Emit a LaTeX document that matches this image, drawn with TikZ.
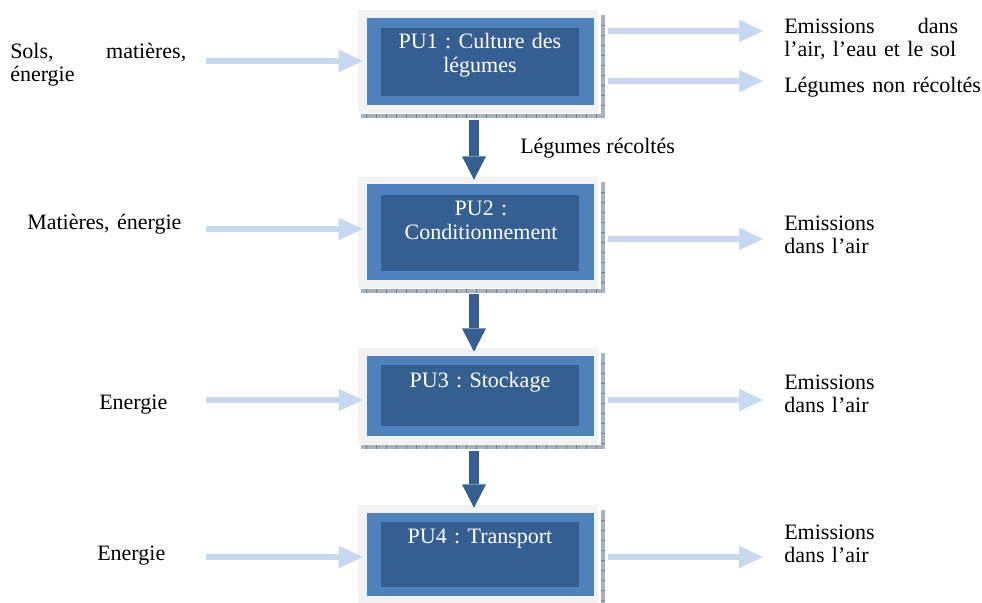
\documentclass[tikz,border=0pt]{standalone}
\usepackage{fontspec}
\setmainfont{Liberation Serif}
\usetikzlibrary{arrows.meta,fit}
\frenchspacing

\definecolor{framegray}{HTML}{F2F2F2}
\definecolor{midblue}{HTML}{4F81BD}
\definecolor{darkblue}{HTML}{365F91}
\definecolor{paleblue}{HTML}{C6D9F1}
\definecolor{shadowgray}{HTML}{A9B2BF}
\definecolor{tickgray}{HTML}{6F7C8F}

\tikzset{
  frame/.style={fill=framegray, inner sep=0pt},
  plate/.style={fill=midblue, inner sep=0pt},
  core/.style={fill=darkblue, inner sep=0pt},
  boxtext/.style={text=white, text width=148pt, align=center, anchor=base, inner sep=0pt,
    font=\fontsize{16.5}{18}\selectfont\frenchspacing},
  sidetext/.style={anchor=base west, inner sep=0pt, text width=160pt, align=left,
    font=\fontsize{16.5}{17.25}\selectfont\frenchspacing},
  flowtip/.style={-{Triangle[length=18pt,width=17pt,line width=0pt]}},
  inflow/.style={draw=paleblue, line width=4.9pt, flowtip, shorten >=3pt},
  outflow/.style={draw=paleblue, line width=4.9pt, flowtip, shorten <=10.5pt},
  mainflow/.style={draw=darkblue, line width=6.9pt,
    -{Triangle[length=17.5pt,width=18pt,line width=0pt]}}
}

% hatched drop shadow along the right and bottom edges of a frame
% #1 = top of the right strip, #2 = bottom of the frame
\newcommand\dropshadow[2]{%
  \fill[shadowgray] (601,#1) rectangle (605,#2+5);
  \fill[shadowgray] (361,#2+1) rectangle (605,#2+5);
  \foreach \t in {366,376,...,600}
    \draw[tickgray, line width=0.5pt] (\t,#2+1) -- (\t,#2+5);
  \pgfmathtruncatemacro\nticks{(#2-#1)/10}
  \foreach \k in {1,...,\nticks}
    \draw[tickgray, line width=0.5pt] (601,#1+\k*10) -- (605,#1+\k*10);
}

\begin{document}
\begin{tikzpicture}[x=0.75pt, y=-0.75pt]
\useasboundingbox (0,0) rectangle (982,603);

% ---------- process units ----------
\dropshadow{15}{113}
\node[frame, fit={(358,10) (598,113)}] (f1) {};
\node[plate, fit={(367,18) (594,105)}] (b1) {};
\node[core,  fit={(381,28) (579,96)}] (c1) {};
\node[boxtext] (t1) at (480,48) {PU1 : Culture des\\légumes};

\dropshadow{182}{288}
\node[frame, fit={(358,177) (598,288)}] (f2) {};
\node[plate, fit={(367,184) (594,280)}] (b2) {};
\node[core,  fit={(381,195) (579,271)}] (c2) {};
\node[boxtext] (t2) at (481,215) {PU2 :\\Conditionnement};

\dropshadow{353}{444}
\node[frame, fit={(358,348) (598,444)}] (f3) {};
\node[plate, fit={(367,356) (594,436)}] (b3) {};
\node[core,  fit={(381,365) (579,426)}] (c3) {};
\node[boxtext] (t3) at (480,387) {PU3 : Stockage};

\dropshadow{510}{606}
\node[frame, fit={(358,505) (598,606)}] (f4) {};
\node[plate, fit={(367,513) (594,596)}] (b4) {};
\node[core,  fit={(381,522) (579,587)}] (c4) {};
\node[boxtext] (t4) at (480,543) {PU4 : Transport};

% ---------- main chain ----------
\coordinate (spine) at (474,0);
\draw[mainflow, shorten <=11.25pt, shorten >=3pt] (b1.south -| spine) -- (b2.north -| spine);
\draw[mainflow, shorten <=10.5pt,  shorten >=3pt] (b2.south -| spine) -- (b3.north -| spine);
\draw[mainflow, shorten <=11.25pt, shorten >=3.75pt] (b3.south -| spine) -- (b4.north -| spine);
\node[anchor=base west, inner sep=0pt, font=\fontsize{16.5}{17.25}\selectfont] (harvest) at (520,153) {Légumes récoltés};

% ---------- inputs ----------
\coordinate (s1) at (206,61);
\coordinate (s2) at (206,229);
\coordinate (s3) at (206,400);
\coordinate (s4) at (206,557);
\draw[inflow] (s1) -- (s1 -| b1.west);
\draw[inflow] (s2) -- (s2 -| b2.west);
\draw[inflow] (s3) -- (s3 -| b3.west);
\draw[inflow] (s4) -- (s4 -| b4.west);

\node[sidetext] (in1) at (10,58) {\hbox to 132pt{Sols,\hfill matières,}\\énergie};
\node[sidetext] (in2) at (27,229) {Matières, énergie};
\node[sidetext] (in3) at (99,409) {Energie};
\node[sidetext] (in4) at (97,560) {Energie};

% ---------- outputs ----------
\coordinate (e1) at (763,31);
\coordinate (e1b) at (763,81);
\coordinate (e2) at (763,239);
\coordinate (e3) at (763,400);
\coordinate (e4) at (763,557);
\draw[outflow] (b1.east |- e1) -- (e1);
\draw[outflow] (b1.east |- e1b) -- (e1b);
\draw[outflow] (b2.east |- e2) -- (e2);
\draw[outflow] (b3.east |- e3) -- (e3);
\draw[outflow] (b4.east |- e4) -- (e4);

\node[sidetext] (out1) at (784,33) {\hbox to 130.5pt{Emissions\hfill dans}\\l’air, l’eau et le sol};
\node[sidetext] (out1b) at (784,92) {Légumes non récoltés};
\node[sidetext] (out2) at (784,230) {Emissions\\dans l’air};
\node[sidetext] (out3) at (784,389) {Emissions\\dans l’air};
\node[sidetext] (out4) at (784,539) {Emissions\\dans l’air};
\end{tikzpicture}
\end{document}
